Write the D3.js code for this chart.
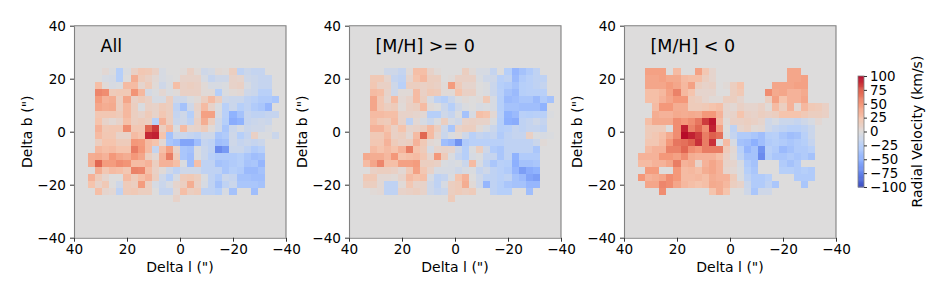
<!DOCTYPE html>
<html>
<head>
<meta charset="utf-8">
<script src="https://cdn.jsdelivr.net/npm/d3@7"></script>
<style>
  html, body { margin: 0; padding: 0; background: #fff; }
  text { font-family: "DejaVu Sans", sans-serif; fill: #000; }
</style>
</head>
<body>
<div id="vis"></div>
<script>
const n = null

// Velocity maps, km/s. Each row starts at bin 2 from the left, first row is bin 6 from the top.
const allRows = [
  [n,n,5,-3,-26,-3,12,22,20,12,-5,n,n,2,12,3,-10,-7,4,2,15,-20,-13,-17,-16],
  [n,n,-5,-6,-26,0,38,18,12,5,-5,-2,0,10,10,10,-5,-16,-10,-10,10,8,-10,-13,-16,-16],
  [n,28,3,-5,-3,30,30,8,18,3,-10,-3,28,12,15,12,3,-5,-5,-3,10,12,-5,-13,-16,-16],
  [n,58,55,18,20,20,52,32,-7,-2,6,-2,2,12,12,12,3,3,-26,-3,3,5,-10,-13,-24,-24],
  [n,48,35,38,15,42,12,18,12,-5,-5,15,-10,-10,-3,3,15,30,15,-10,-13,-13,-20,-24,-29,-29,-33],
  [n,42,38,40,15,32,15,-3,12,10,18,15,-20,-36,-10,10,30,10,-3,-24,-13,-26,-20,-29,-33,-45],
  [n,22,22,22,18,32,15,10,18,10,22,15,-16,-10,-26,8,45,45,-5,-24,-48,-36,-16,-20,-20,-16,-16],
  [n,25,10,5,10,28,15,18,15,-24,35,15,-13,-10,-20,12,38,15,-10,-26,-52,-48,-16,-13,-10,-13],
  [n,35,20,22,22,55,22,22,72,85,15,30,-3,30,8,10,18,3,-10,-33,-13,-5,-13,-10,-10,-5],
  [n,30,22,22,10,10,30,25,90,92,25,-36,-13,-13,-16,-20,-10,-10,-33,-29,-10,-26,-16,12,-3,-3,-13],
  [n,15,25,25,18,18,50,48,30,25,5,-33,-39,-56,-56,-39,-16,-20,-39,-36,-10,-16,-13,-16,-13],
  [n,32,28,30,25,25,62,50,30,-16,28,45,10,-33,-36,-3,-13,-20,-70,-62,-13,-13,-20,-29,-24],
  [38,40,35,50,42,38,50,42,15,5,35,62,18,-33,-39,-3,-13,-24,-29,-29,-29,-26,-33,-39,-36],
  [38,72,48,48,55,52,30,30,35,15,35,35,28,-3,-39,28,-20,-20,-36,-33,-29,-26,-35,-33,-45],
  [n,38,22,30,28,22,60,58,28,12,3,-10,-20,-10,-10,-10,-20,-20,-20,-33,-26,-29,-42,-42,-36],
  [35,18,8,0,0,30,18,28,35,15,-10,-24,-5,18,20,15,-3,-20,-29,-13,-16,-36,-36,-39,-39],
  [25,10,20,0,-10,18,15,48,15,-5,-13,-5,8,15,38,12,-5,-20,-36,-20,-13,-33,-33,-33,-36],
  [n,28,8,5,-20,18,20,15,15,n,-16,-16,5,28,15,18,-20,-20,-26,-5,-36,n,n,-39],
  [n,n,n,n,n,n,n,n,n,n,n,n,10]
]

const metalRichRows = [
  [n,n,n,-10,-10,-16,3,28,28,10,3,n,n,n,15,3,-5,-5,-16,0,-26,-45,-36,-29,-20],
  [n,20,20,8,-16,-20,8,25,32,15,15,0,2,12,12,12,-3,-10,-10,-24,-20,-42,-29,-24,-20,-20],
  [n,22,12,12,-10,-24,15,15,12,15,12,3,48,18,8,8,0,-3,-13,-26,-29,-36,-26,-24,-20,-16],
  [n,30,28,10,-10,3,3,30,12,20,18,3,3,25,12,12,0,-3,-13,-24,-36,-42,-26,-24,-24,-24],
  [n,42,22,8,30,5,10,30,15,-5,-20,-26,-13,-3,3,0,2,20,-5,-26,-42,-39,-33,-33,-42,-29,-36],
  [n,42,22,15,18,3,12,15,30,3,0,-13,-26,-10,-3,0,-5,-3,-5,-26,-36,-36,-39,-39,-39,-48],
  [n,30,30,28,28,10,10,8,5,-26,-26,-10,-16,-3,-36,-5,28,25,5,-24,-48,-42,-24,-26,-24,-24,-3],
  [n,28,20,18,30,10,-20,5,-5,-13,-3,15,-5,-10,10,12,10,10,-3,-26,-50,-52,-20,-16,-10,-16],
  [n,35,35,25,12,25,8,10,15,30,15,-10,-33,10,15,15,3,-5,-13,-26,-24,-16,-20,-16,-16,-20],
  [n,20,20,30,12,15,5,30,72,30,8,-13,-3,3,-10,-24,-16,-20,-16,-29,-20,-16,-16,12,-3,-5,-3],
  [n,22,22,35,18,12,15,35,20,5,2,-39,-45,-66,-29,-24,-24,-24,-24,-24,-20,-20,-20,-20,-13,3],
  [n,30,25,30,25,35,62,25,18,-5,8,10,8,-10,-26,-3,15,-10,-29,-33,-20,-20,-20,-20,-33],
  [40,38,38,32,50,25,28,30,22,8,50,18,-3,-16,-26,-5,-2,-16,-16,-33,-20,-48,-29,-29,-29],
  [30,42,58,28,28,45,45,48,15,15,12,-3,-5,-3,-13,30,-5,-20,-33,-24,-26,-50,-36,-36,-33],
  [n,12,15,15,12,5,20,45,22,10,-5,-5,-5,-10,-5,-3,-16,-10,-20,-24,-29,-45,-60,-52,-48],
  [20,20,5,5,3,10,30,25,28,-5,-20,-16,-3,25,35,0,-10,-20,-20,-24,-20,-36,-42,-56,-60],
  [15,15,5,-20,-20,3,22,10,10,-10,-20,-5,15,18,38,3,-10,-45,-20,-26,-33,-36,-36,-45,-45],
  [n,3,5,-20,-20,10,12,15,10,-10,-16,-13,15,18,15,18,n,n,-20,-26,-26,n,n,-39],
  [n,n,n,n,n,n,n,n,n,n,n,n,18]
]

const metalPoorRows = [
  [n,45,45,45,n,30,n,n,45,22,8,n,n,n,n,n,n,n,n,n,n,42,42],
  [n,42,42,45,40,40,30,28,28,15,8,n,n,n,n,n,n,n,n,n,n,42,42,45],
  [n,42,42,42,48,42,32,45,15,10,12,n,3,15,25,n,n,n,n,42,42,42,45,45],
  [n,28,28,32,45,60,32,25,8,8,8,0,0,15,20,n,n,n,55,40,42,35,35,40],
  [n,28,28,35,42,50,50,18,15,8,3,3,15,15,8,n,n,n,15,45,25,35,35,42],
  [n,n,30,50,50,38,38,18,18,20,25,28,8,5,12,8,8,12,3,30,15,35,5,32,20,18,12],
  [n,n,38,35,35,40,38,40,38,50,50,35,8,10,25,12,10,15,12,15,25,25,25,20,15,15,12],
  [n,28,40,40,40,55,50,55,65,85,95,30,3,12,12,15,12,8,-10,-5,-13,-13,-16,-10,-5,5],
  [n,18,18,18,0,55,92,60,72,55,92,45,0,-20,8,12,3,5,-10,-16,-20,-24,-24,-20,-13],
  [n,18,22,28,40,55,98,92,85,62,75,68,-3,-16,-29,-29,-33,-39,-26,-24,-33,-39,-36,-24,-13],
  [n,22,22,30,50,65,68,75,88,62,88,0,30,-5,-36,-39,-50,-39,-29,-26,-29,-33,-29,-26,-16],
  [n,30,35,35,60,60,72,55,50,62,62,62,18,5,-24,-45,-36,-66,-24,-29,-42,-36,-29,-29,-24],
  [35,35,35,50,50,45,55,38,35,35,35,28,12,3,-20,-36,-36,-70,-26,-33,-33,-29,-33,-29,-36],
  [30,30,35,35,42,62,35,38,10,35,42,35,10,8,-5,-29,-36,n,n,n,-29,-36,-29],
  [n,48,48,0,0,50,30,32,28,38,42,35,8,5,-3,-26,-33,n,n,n,-26,-26,-29,-26,-29],
  [50,35,38,42,55,50,30,30,32,28,38,35,35,18,-3,-20,-29,-29,-24,n,n,n,-29,-29,-29],
  [n,42,42,58,55,42,32,28,25,28,40,38,32,15,10,-13,-29,-29,-20,-33,n,n,n,-33],
  [n,n,n,55,n,n,n,n,n,n,25,38,25,n,n,-10,-33,-10,-10]
]

const panelTitles = ["All", "[M/H] >= 0", "[M/H] < 0"]
const panelRows = [allRows, metalRichRows, metalPoorRows]
const axisTicks = [40, 20, 0, -20, -40]
const colorbarTicks = [100, 75, 50, 25, 0, -25, -50, -75, -100]

// matplotlib coolwarm, sampled
const coolwarmStops = ["#3b4cc0", "#6282ea", "#8db0fe", "#b8d0f9", "#dddcdc", "#f5c4ad", "#f4987a", "#de604d", "#b40426"]
const stopValues = [-100, -75, -50, -25, 0, 25, 50, 75, 100]

const panelLeft = [74, 349, 624]
const panelTop = 25.7
const panelSize = 212
const binCount = 30
const firstCol = 2
const firstRow = 6

const color = d3.scaleLinear().domain(stopValues).range(coolwarmStops).clamp(true)
const minus = s => String(s).replace("-", "\u2212")

const svg = d3.select("#vis")
  .append("svg")
  .attr("width", 934)
  .attr("height", 290)
  .style("display", "block")

const x = d3.scaleLinear().domain([40, -40]).range([0, panelSize])
const y = d3.scaleLinear().domain([40, -40]).range([0, panelSize])
const binEdge = d3.scaleLinear().domain([0, binCount]).range([40, -40])

function styleAxis(g) {
  g.selectAll("path").attr("stroke", "#808080").attr("stroke-width", 1.1)
  g.selectAll("line").attr("stroke", "#333")
  g.selectAll("text").style("font-size", "13.6px")
}

panelRows.forEach((rows, p) => {
  const g = svg.append("g").attr("transform", `translate(${panelLeft[p]},${panelTop})`)

  g.append("rect")
    .attr("width", panelSize)
    .attr("height", panelSize)
    .attr("fill", color(0))

  rows.forEach((row, r) => {
    g.append("g").selectAll("rect")
      .data(row.map((v, i) => ({v: v, col: i + firstCol})).filter(d => d.v !== null))
      .enter()
      .append("rect")
      .attr("x", d => x(binEdge(d.col)))
      .attr("y", y(binEdge(r + firstRow)))
      .attr("width", d => x(binEdge(d.col + 1)) - x(binEdge(d.col)))
      .attr("height", y(binEdge(r + firstRow + 1)) - y(binEdge(r + firstRow)))
      .attr("fill", d => color(d.v))
      .attr("shape-rendering", "crispEdges")
  })

  g.append("g")
    .attr("transform", `translate(0,${panelSize})`)
    .call(d3.axisBottom(x).tickValues(axisTicks).tickSize(4).tickPadding(3).tickFormat(minus).tickSizeOuter(0))
    .call(styleAxis)
  g.append("g")
    .call(d3.axisLeft(y).tickValues(axisTicks).tickSize(4).tickPadding(4).tickFormat(minus).tickSizeOuter(0))
    .call(styleAxis)

  // top and right spines
  g.append("path")
    .attr("d", `M0,0H${panelSize}V${panelSize}`)
    .attr("fill", "none")
    .attr("stroke", "#808080")
    .attr("stroke-width", 1.1)

  g.append("text")
    .attr("x", x(30))
    .attr("y", y(30))
    .style("font-size", "17.5px")
    .text(panelTitles[p])

  g.append("text")
    .attr("x", panelSize / 2)
    .attr("y", panelSize + 34)
    .attr("text-anchor", "middle")
    .style("font-size", "14px")
    .text('Delta l (")')

  g.append("text")
    .attr("transform", `translate(-42,${panelSize / 2}) rotate(-90)`)
    .attr("text-anchor", "middle")
    .style("font-size", "14px")
    .text('Delta b (")')
})

// Colorbar
const cbar = svg.append("g").attr("transform", "translate(858,76)")
const cbarWidth = 6
const cbarHeight = 111
const cy = d3.scaleLinear().domain([100, -100]).range([0, cbarHeight])

cbar.selectAll("rect")
  .data(d3.range(-100, 100, 2))
  .enter()
  .append("rect")
  .attr("x", 0)
  .attr("y", d => cy(d + 2))
  .attr("width", cbarWidth)
  .attr("height", d => cy(d) - cy(d + 2) + 0.5)
  .attr("fill", d => color(d + 1))

cbar.append("rect")
  .attr("width", cbarWidth)
  .attr("height", cbarHeight)
  .attr("fill", "none")
  .attr("stroke", "#808080")
  .attr("stroke-width", 0.8)

cbar.append("g")
  .attr("transform", `translate(${cbarWidth},0)`)
  .call(d3.axisRight(cy).tickValues(colorbarTicks).tickSize(3).tickPadding(3).tickFormat(minus).tickSizeOuter(0))
  .call(g => g.select("path").remove())
  .call(g => g.selectAll("line").attr("stroke", "#333"))
  .call(g => g.selectAll("text").style("font-size", "13.4px"))

cbar.append("text")
  .attr("transform", `translate(64,${cbarHeight / 2}) rotate(-90)`)
  .attr("text-anchor", "middle")
  .style("font-size", "14px")
  .text("Radial Velocity (km/s)")
</script>
</body>
</html>
